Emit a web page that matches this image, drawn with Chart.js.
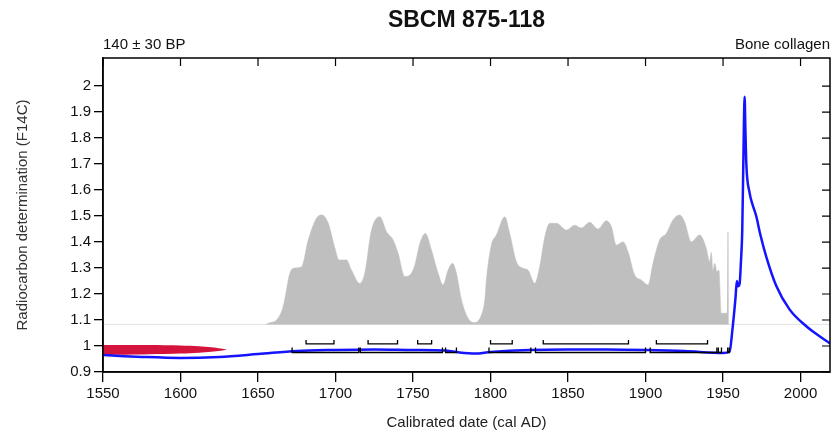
<!DOCTYPE html>
<html>
<head>
<meta charset="utf-8">
<script src="https://cdn.jsdelivr.net/npm/chart.js@4/dist/chart.umd.min.js"></script>
<style>
  html, body { margin: 0; padding: 0; background: #fff; }
  canvas { display: block; }
</style>
</head>
<body>
<canvas id="grafico" width="833" height="435"></canvas>
<script>
// Textos do gráfico
const titulo = "SBCM 875-118";
const rotuloEsquerda = "140 \u00b1 30 BP";
const rotuloDireita = "Bone collagen";

// Marcas dos eixos
const ticksX = [1550, 1600, 1650, 1700, 1750, 1800, 1850, 1900, 1950, 2000];
const ticksY = [0.9, 1, 1.1, 1.2, 1.3, 1.4, 1.5, 1.6, 1.7, 1.8, 1.9, 2];

// Curva de calibração (anos cal AD, F14C)
const curvaAnos = [1550, 1575, 1600, 1625, 1650, 1675, 1700, 1725, 1750, 1770, 1780, 1790, 1800, 1825, 1850, 1875, 1900, 1925, 1950, 1954.2,
  1956, 1958.1, 1958.9, 1959.6, 1960.7, 1961.5, 1962.4, 1963.2, 1963.9, 1964.4, 1965, 1967.1, 1969, 1971.4, 1974, 1977.9, 1984.3, 1993, 2003.7, 2010, 2019];
const curvaF14C = [0.965, 0.958, 0.954, 0.958, 0.969, 0.981, 0.985, 0.987, 0.985, 0.983, 0.975, 0.971, 0.977, 0.985, 0.987, 0.987, 0.985, 0.981, 0.973, 0.978,
  1.06, 1.19, 1.25, 1.23, 1.24, 1.32, 1.446, 1.75, 1.959, 1.84, 1.703, 1.59, 1.545, 1.50, 1.43, 1.343, 1.232, 1.14, 1.076, 1.047, 1.01];

// Distribuição da data calibrada (área cinza)
const probBase = 1.083;
const probAnos = [1655, 1658, 1662, 1666.2, 1670.6, 1673.8, 1678.1, 1682.4, 1687.8, 1691, 1695.3, 1699.6, 1702.3, 1707.1, 1710.3, 1715.7, 1718.9,
  1723.2, 1728.6, 1732.9, 1737.2, 1740.4, 1744.7, 1747.9, 1751.2, 1754.4, 1758, 1761.9, 1766.2, 1769.4, 1772.6, 1775.5, 1778, 1781.3, 1785.5,
  1789.8, 1794.1, 1796.3, 1797.4, 1800.6, 1803.8, 1809.2, 1812.4, 1816.7, 1821, 1824.2, 1828.5, 1831.7, 1835, 1838.2, 1842.5, 1849, 1854.3,
  1858.6, 1864, 1869.3, 1874.7, 1878, 1881.2, 1885.5, 1888.7, 1893, 1897.3, 1901.6, 1904.8, 1909.1, 1913.4, 1917.7, 1922, 1925.2, 1929.5,
  1934.9, 1939.2, 1941.3, 1942.4, 1943.5, 1944.6, 1946.1, 1947.3, 1948.9, 1952.1, 1952.8, 1953.2, 1953.6];
const probValores = [1.083, 1.09, 1.1, 1.151, 1.281, 1.3, 1.305, 1.408, 1.492, 1.504, 1.473, 1.377, 1.331, 1.331, 1.292, 1.241, 1.281,
  1.446, 1.497, 1.44, 1.408, 1.357, 1.267, 1.273, 1.312, 1.395, 1.433, 1.369, 1.28, 1.235, 1.292, 1.318, 1.28, 1.177, 1.107,
  1.09, 1.119, 1.177, 1.26, 1.39, 1.427, 1.497, 1.433, 1.324, 1.299, 1.292, 1.241, 1.305, 1.42, 1.472, 1.472, 1.446, 1.465,
  1.454, 1.476, 1.45, 1.482, 1.459, 1.388, 1.401, 1.363, 1.273, 1.254, 1.235, 1.318, 1.408, 1.433, 1.485, 1.504, 1.478, 1.401,
  1.427, 1.376, 1.324, 1.36, 1.292, 1.318, 1.286, 1.292, 1.126, 1.126, 1.126, 1.44, 1.083];

// Distribuição da medida radiocarbono (vermelho, ao longo do eixo Y)
const medidaAnos = [1550, 1560, 1580, 1600, 1612, 1620, 1626, 1630];
const medidaSup = [1.004, 1.004, 1.004, 1.002, 0.999, 0.995, 0.99, 0.986];
const medidaInf = [0.965, 0.966, 0.968, 0.971, 0.974, 0.978, 0.982, 0.986];

// Intervalos 68.2% e 95.4%
const intervalos68 = [[1681, 1699], [1721, 1740], [1753, 1762], [1800, 1814], [1834, 1889], [1907, 1940]];
const intervalos95 = [[1672, 1715], [1716, 1769], [1771, 1778], [1799, 1826], [1829, 1900], [1903, 1946], [1947, 1949], [1953, 1954]];

const xMin = 1550, xMax = 2019;
const yMin = 0.9, yMax = 2.108;

// Níveis dos colchetes
const nivel68 = 1.008, topo68 = 1.023;
const nivel95 = 0.975, topo95 = 0.994;

function pontos(xs, ys) {
    return xs.map((x, i) => ({ x: x, y: ys[i] }));
}

function colchetes(lista, nivel, topo) {
    let pts = [];
    lista.forEach(([a, b]) => {
        pts.push({ x: a, y: topo }, { x: a, y: nivel }, { x: b, y: nivel }, { x: b, y: topo }, { x: b, y: null });
    });
    return pts;
}

const fonte = "'Liberation Sans', Arial, sans-serif";

// Moldura, marcas internas e textos do topo
const decoracao = {
    id: "decoracao",
    afterDraw(chart) {
        const { ctx, chartArea: a, scales } = chart;
        ctx.save();
        ctx.strokeStyle = "#000";
        ctx.lineWidth = 1.5;
        ctx.strokeRect(a.left, a.top, a.right - a.left, a.bottom - a.top);
        ctx.lineWidth = 1.2;
        ctx.beginPath();
        scales.x.ticks.forEach(t => {
            const px = scales.x.getPixelForValue(t.value);
            ctx.moveTo(px, a.top);
            ctx.lineTo(px, a.top + 8);
        });
        scales.y.ticks.forEach(t => {
            const py = scales.y.getPixelForValue(t.value);
            ctx.moveTo(a.right, py);
            ctx.lineTo(a.right - 8, py);
        });
        ctx.stroke();

        ctx.fillStyle = "#111";
        ctx.textBaseline = "middle";
        ctx.font = "bold 23px " + fonte;
        ctx.textAlign = "center";
        ctx.fillText(titulo, (a.left + a.right) / 2, 21);
        ctx.font = "15px " + fonte;
        ctx.textAlign = "left";
        ctx.fillText(rotuloEsquerda, a.left, 45);
        ctx.textAlign = "right";
        ctx.fillText(rotuloDireita, a.right, 45);
        ctx.restore();
    }
};

const ctx = document.getElementById("grafico").getContext("2d");
window.myChart = new Chart(ctx, {
    type: "line",
    data: {
        datasets: [
            {
                label: "base",
                data: pontos([xMin, xMax], [probBase, probBase]),
                borderColor: "#e2e2e2",
                borderWidth: 1,
                pointRadius: 0,
                fill: false,
                order: 6
            },
            {
                label: "prob",
                data: pontos(probAnos, probValores),
                borderColor: "#bfbfbf",
                borderWidth: 0.5,
                backgroundColor: "#bfbfbf",
                pointRadius: 0,
                cubicInterpolationMode: "monotone",
                fill: { value: probBase },
                order: 5
            },
            {
                label: "medidaSup",
                data: pontos(medidaAnos, medidaSup),
                borderWidth: 0,
                backgroundColor: "#d4143c",
                pointRadius: 0,
                tension: 0.3,
                fill: "+1",
                order: 4
            },
            {
                label: "medidaInf",
                data: pontos(medidaAnos, medidaInf),
                borderWidth: 0,
                pointRadius: 0,
                tension: 0.3,
                fill: false,
                order: 4
            },
            {
                label: "curva",
                data: pontos(curvaAnos, curvaF14C),
                borderColor: "#1414ff",
                borderWidth: 2.5,
                pointRadius: 0,
                cubicInterpolationMode: "monotone",
                fill: false,
                order: 2
            },
            {
                label: "68",
                data: colchetes(intervalos68, nivel68, topo68),
                borderColor: "#000",
                borderWidth: 1.3,
                pointRadius: 0,
                fill: false,
                order: 1
            },
            {
                label: "95",
                data: colchetes(intervalos95, nivel95, topo95),
                borderColor: "#000",
                borderWidth: 1.3,
                pointRadius: 0,
                fill: false,
                order: 1
            }
        ]
    },
    options: {
        responsive: false,
        animation: false,
        devicePixelRatio: 1,
        layout: { padding: { top: 58, right: 3, left: 0, bottom: 0 } },
        plugins: {
            legend: { display: false },
            tooltip: { enabled: false },
            title: { display: false }
        },
        scales: {
            x: {
                type: "linear",
                min: xMin,
                max: xMax,
                afterBuildTicks: s => { s.ticks = ticksX.map(v => ({ value: v })); },
                afterFit: s => { s.height = 63; },
                grid: { drawOnChartArea: false, drawTicks: true, tickLength: 10, tickColor: "#000", lineWidth: 1.3 },
                border: { display: true, color: "#000", width: 1.5 },
                ticks: {
                    padding: 3,
                    color: "#111",
                    font: { family: fonte, size: 15 },
                    maxRotation: 0,
                    callback: v => String(v)
                },
                title: {
                    display: true,
                    text: "Calibrated date (cal AD)",
                    color: "#222",
                    font: { family: fonte, size: 15 },
                    padding: { top: 0, bottom: 3 }
                }
            },
            y: {
                type: "linear",
                min: yMin,
                max: yMax,
                afterBuildTicks: s => { s.ticks = ticksY.map(v => ({ value: v })); },
                afterFit: s => { s.width = 103; },
                grid: { drawOnChartArea: false, drawTicks: true, tickLength: 9, tickColor: "#000", lineWidth: 1.3 },
                border: { display: true, color: "#000", width: 1.5 },
                ticks: {
                    padding: 3,
                    color: "#111",
                    font: { family: fonte, size: 15 },
                    callback: v => String(Math.round(v * 10) / 10)
                },
                title: {
                    display: true,
                    text: "Radiocarbon determination (F14C)",
                    color: "#333",
                    font: { family: fonte, size: 15 },
                    padding: { top: 14, bottom: 0 }
                }
            }
        }
    },
    plugins: [decoracao]
});
</script>
</body>
</html>
